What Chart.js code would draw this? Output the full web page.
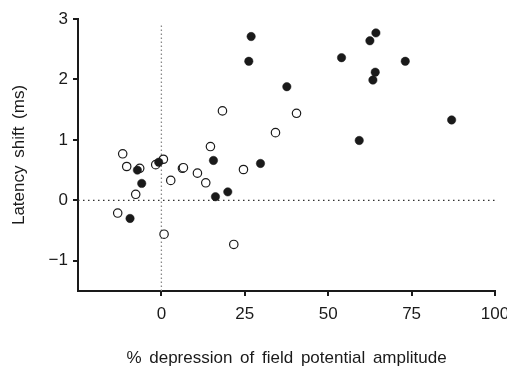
<!DOCTYPE html>
<html>
<head>
<meta charset="utf-8">
<script src="https://cdn.jsdelivr.net/npm/chart.js@4"></script>
<style>
  html, body { margin: 0; padding: 0; background: #ffffff; }
  #wrap { width: 507px; height: 373px; }
</style>
</head>
<body>
<div id="wrap"><canvas id="c" width="507" height="373"></canvas></div>
<script>
// Data
const filledX = [26.9, 26.2, 37.6, 64.3, 62.5, 54.0, 73.1, 64.1, 63.4, 87.0, 59.3, -7.2, -5.9, -9.4, -0.8, 15.6, 16.2, 19.9, 29.7];
const filledY = [2.71, 2.30, 1.88, 2.77, 2.64, 2.36, 2.30, 2.12, 1.99, 1.33, 0.99, 0.50, 0.28, -0.30, 0.63, 0.66, 0.06, 0.14, 0.61];
const openX = [18.3, 34.2, 14.7, -11.6, 40.5, -10.4, -6.5, -7.7, -13.1, -1.7, 0.6, 0.8, 2.8, 6.3, 6.6, 10.8, 13.3, 24.6, 21.7];
const openY = [1.48, 1.12, 0.89, 0.77, 1.44, 0.56, 0.53, 0.10, -0.21, 0.59, 0.68, -0.56, 0.33, 0.53, 0.54, 0.45, 0.29, 0.51, -0.73];
const xTicks = [0, 25, 50, 75, 100];
const yTicks = [-1, 0, 1, 2, 3];
const xRange = [-25, 100];
const yRange = [-1.5, 3];
const xTitle = '% depression of field potential amplitude';
const yTitle = 'Latency shift (ms)';

const toPts = (xs, ys) => xs.map((x, i) => ({ x: x, y: ys[i] }));
const FONT = "'Liberation Sans', Arial, Helvetica, sans-serif";
const fmt = v => (v < 0 ? '\u2212' + Math.abs(v) : String(v));

const wordSpacingPlugin = {
  id: 'wordSpacing',
  beforeDraw(chart) {
    if ('wordSpacing' in chart.ctx) chart.ctx.wordSpacing = '3px';
  }
};

new Chart(document.getElementById('c'), {
  type: 'scatter',
  plugins: [wordSpacingPlugin],
  data: {
    datasets: [
      {
        label: 'zero-y',
        data: [{ x: xRange[0], y: 0 }, { x: xRange[1], y: 0 }],
        showLine: true, pointRadius: 0,
        borderColor: '#333333', borderWidth: 1.3, borderDash: [1.5, 3.5],
        order: 10
      },
      {
        label: 'zero-x',
        data: [{ x: 0, y: yRange[0] }, { x: 0, y: 2.93 }],
        showLine: true, pointRadius: 0,
        borderColor: '#888888', borderWidth: 1.3, borderDash: [1.5, 2.5],
        order: 10
      },
      {
        label: 'open',
        data: toPts(openX, openY),
        pointRadius: 4.2, pointBackgroundColor: '#ffffff',
        pointBorderColor: '#1a1a1a', pointBorderWidth: 1.2,
        order: 2
      },
      {
        label: 'filled',
        data: toPts(filledX, filledY),
        pointRadius: 4.2, pointBackgroundColor: '#1a1a1a',
        pointBorderColor: '#1a1a1a', pointBorderWidth: 0.5,
        order: 1
      }
    ]
  },
  options: {
    responsive: false,
    animation: false,
    events: [],
    layout: { padding: { left: 0, top: 19, right: 12, bottom: 0 } },
    plugins: { legend: { display: false }, tooltip: { enabled: false } },
    scales: {
      x: {
        type: 'linear', min: xRange[0], max: xRange[1],
        afterBuildTicks: s => { s.ticks = xTicks.map(v => ({ value: v })); },
        afterFit: s => { s.height = 82; s.paddingLeft = 0; s.paddingRight = 0; },
        border: { display: true, color: '#1a1a1a', width: 2 },
        grid: { drawOnChartArea: false, drawTicks: true, tickLength: 5, color: '#1a1a1a', lineWidth: 2 },
        ticks: { padding: 8, color: '#1a1a1a', font: { family: FONT, size: 17 }, maxRotation: 0, autoSkip: false, callback: v => fmt(v) },
        title: { display: true, text: xTitle, color: '#1a1a1a', font: { family: FONT, size: 17 }, padding: { top: 0, bottom: 4.5 } }
      },
      y: {
        type: 'linear', min: yRange[0], max: yRange[1],
        afterBuildTicks: s => { s.ticks = yTicks.map(v => ({ value: v })); },
        afterFit: s => { s.width = 78; s.paddingTop = 0; s.paddingBottom = 0; },
        border: { display: true, color: '#1a1a1a', width: 2 },
        grid: { drawOnChartArea: false, drawTicks: true, tickLength: 5, color: '#1a1a1a', lineWidth: 2 },
        ticks: { padding: 5, color: '#1a1a1a', font: { family: FONT, size: 17 }, autoSkip: false, callback: v => fmt(v) },
        title: { display: true, text: yTitle, color: '#1a1a1a', font: { family: FONT, size: 17 }, padding: { top: 9, bottom: 0 } }
      }
    }
  }
});
</script>
</body>
</html>
